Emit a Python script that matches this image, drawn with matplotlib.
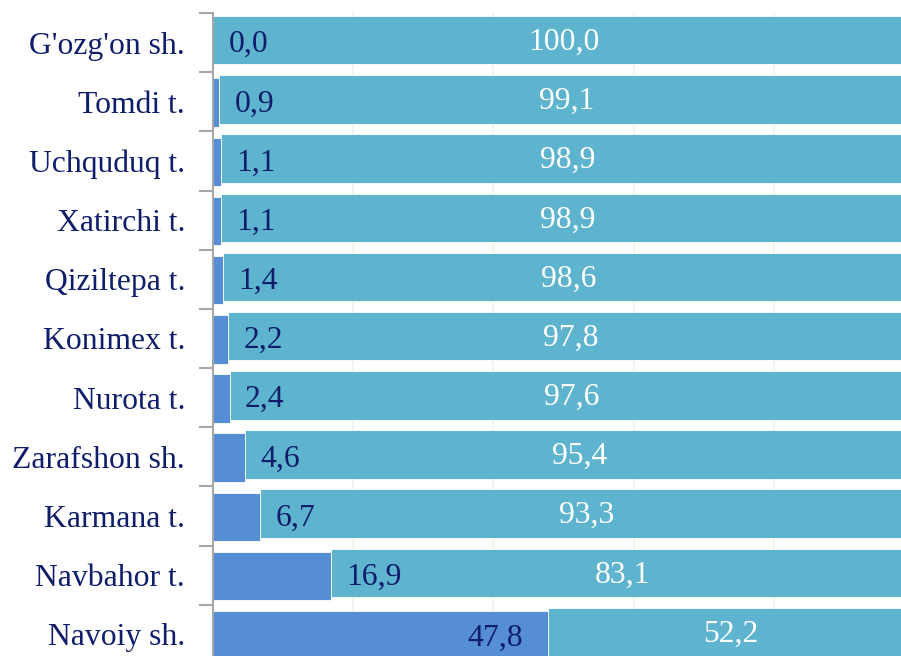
import matplotlib
matplotlib.use('Agg')
import matplotlib.pyplot as plt
import numpy as np

districts = ["G'ozg'on sh.", "Tomdi t.", "Uchquduq t.", "Xatirchi t.", "Qiziltepa t.",
             "Konimex t.", "Nurota t.", "Zarafshon sh.", "Karmana t.", "Navbahor t.",
             "Navoiy sh."]
share_a = [0.0, 0.9, 1.1, 1.1, 1.4, 2.2, 2.4, 4.6, 6.7, 16.9, 47.8]
share_b = [100.0, 99.1, 98.9, 98.9, 98.6, 97.8, 97.6, 95.4, 93.3, 83.1, 52.2]

COL_A = '#558ED5'
COL_B = '#5EB4CE'
NAVY = '#0F1D6B'
GREY = '#A6A6A6'
FS = 22.8

plt.rcParams['font.family'] = ['Liberation Serif', 'DejaVu Serif']

fig = plt.figure(figsize=(9.01, 6.56), dpi=100)
# axes run a little past the right/bottom edge, as in the cropped original
ax = fig.add_axes([213 / 901, -8 / 656, 701 / 901, 651 / 656])

y = np.arange(len(districts))
# the two series sit slightly offset vertically in the original
ya = y + 0.015
yb = y - 0.04
ax.barh(ya, share_a, height=0.82, color=COL_A, edgecolor='white', linewidth=0.6, zorder=2)
ax.barh(yb, share_b, left=share_a, height=0.82, color=COL_B, edgecolor='white',
        linewidth=0.6, zorder=2)

fmt = lambda v: f'{v:.1f}'.replace('.', ',')
for yi, a, b in zip(y, share_a, share_b):
    if a < 30:
        ax.annotate(fmt(a), (a, yi), xytext=(11, -1.5), textcoords='offset points',
                    ha='left', va='center', color=NAVY, fontsize=FS, zorder=3)
    else:
        ax.annotate(fmt(a), (a, yi), xytext=(-18, -3), textcoords='offset points',
                    ha='right', va='center', color=NAVY, fontsize=FS, zorder=3)
    ax.annotate(fmt(b), (a + b / 2, yi - 0.04), xytext=(0, -1.5), textcoords='offset points',
                ha='center', va='center', color='white', fontsize=FS, zorder=3)

ax.set_xlim(0, 100)
ax.set_ylim(len(districts) - 0.5, -0.5)
ax.set_xticks(np.arange(0, 101, 20))
ax.xaxis.grid(True, color='#F0F0F0', linewidth=1.2, zorder=0)
ax.set_axisbelow(True)
ax.tick_params(axis='x', bottom=False, labelbottom=False)

ax.set_yticks(y)
ax.set_yticklabels(districts, fontsize=FS, color=NAVY)
ax.tick_params(axis='y', which='major', direction='in', length=5, width=1.5,
               color=GREY, pad=20)
ax.set_yticks(np.arange(-0.5, len(districts), 1), minor=True)
ax.tick_params(axis='y', which='minor', direction='out', length=10, width=1.5, color=GREY)

for side in ('top', 'right', 'bottom'):
    ax.spines[side].set_visible(False)
ax.spines['left'].set_color(GREY)
ax.spines['left'].set_linewidth(1.5)
ax.spines['left'].set_zorder(4)

fig.savefig('out.png', dpi=100)
